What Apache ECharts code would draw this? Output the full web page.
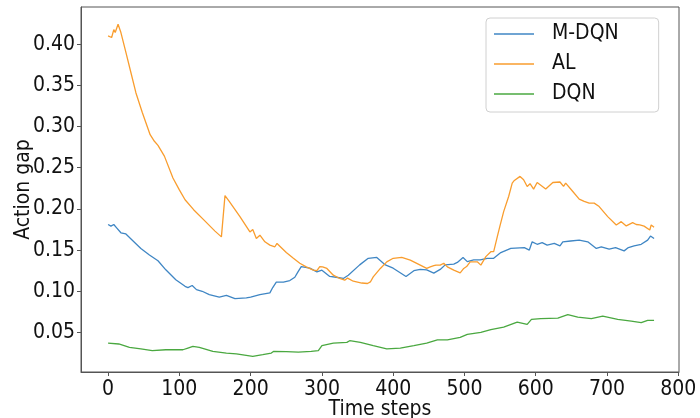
<!DOCTYPE html>
<html>
<head>
<meta charset="utf-8">
<script src="https://cdn.jsdelivr.net/npm/echarts@6/dist/echarts.min.js"></script>
<style>html,body{margin:0;padding:0;background:#fff}#c{width:700px;height:418px}</style>
</head>
<body>
<div id="c"></div>
<script>
// Tick labels
const xTicks = [0, 100, 200, 300, 400, 500, 600, 700, 800];
const yTicks = [0.05, 0.10, 0.15, 0.20, 0.25, 0.30, 0.35, 0.40];
const seriesNames = ['M-DQN', 'AL', 'DQN'];

// M-DQN
const mdqnX = [0, 4, 8, 12, 18, 25, 34, 46, 58, 70, 81, 95, 108, 112, 118, 124, 132, 142, 156, 166, 178, 194, 200, 213, 227, 231, 236, 246, 255, 262, 266, 271, 283, 293, 300, 311, 320, 330, 337, 353, 365, 377, 389, 400, 418, 429, 438, 447, 457, 466, 473, 485, 490, 498, 504, 513, 522, 532, 541, 551, 565, 584, 591, 595, 602, 609, 616, 626, 634, 638, 649, 661, 673, 685, 692, 703, 712, 724, 730, 738, 748, 757, 761, 766];
const mdqnY = [0.181, 0.179, 0.181, 0.177, 0.171, 0.1695, 0.162, 0.152, 0.144, 0.137, 0.126, 0.114, 0.106, 0.1045, 0.107, 0.102, 0.100, 0.096, 0.093, 0.095, 0.091, 0.092, 0.093, 0.096, 0.098, 0.1045, 0.111, 0.111, 0.113, 0.117, 0.123, 0.130, 0.128, 0.1235, 0.1256, 0.118, 0.117, 0.1155, 0.1195, 0.132, 0.140, 0.141, 0.132, 0.128, 0.118, 0.125, 0.1265, 0.126, 0.122, 0.1265, 0.132, 0.133, 0.135, 0.141, 0.136, 0.138, 0.138, 0.140, 0.140, 0.147, 0.152, 0.153, 0.150, 0.160, 0.157, 0.159, 0.156, 0.158, 0.155, 0.160, 0.161, 0.162, 0.160, 0.152, 0.154, 0.151, 0.153, 0.149, 0.153, 0.155, 0.157, 0.162, 0.167, 0.164];

// AL
const alX = [0, 5, 8, 10, 14, 18, 25, 32, 39, 48, 59, 65, 70, 79, 91, 100, 108, 120, 135, 150, 159, 164, 170, 185, 199, 203, 208, 213, 220, 227, 234, 237, 250, 260, 269, 278, 288, 293, 297, 301, 307, 316, 325, 332, 336, 344, 356, 364, 368, 372, 382, 391, 400, 412, 424, 438, 447, 452, 457, 460, 466, 471, 476, 485, 494, 499, 503, 508, 518, 523, 530, 537, 541, 546, 550, 555, 562, 567, 570, 578, 583, 588, 592, 597, 602, 608, 614, 619, 624, 634, 639, 642, 652, 661, 668, 675, 682, 689, 701, 713, 720, 727, 736, 741, 746, 752, 760, 762, 766];
const alY = [0.410, 0.408, 0.4175, 0.414, 0.424, 0.414, 0.390, 0.3655, 0.341, 0.317, 0.290, 0.282, 0.277, 0.264, 0.2375, 0.223, 0.211, 0.199, 0.186, 0.173, 0.166, 0.216, 0.209, 0.1906, 0.172, 0.175, 0.164, 0.168, 0.160, 0.156, 0.154, 0.158, 0.147, 0.140, 0.134, 0.1296, 0.1256, 0.125, 0.130, 0.1296, 0.1277, 0.1195, 0.1155, 0.1134, 0.116, 0.1122, 0.110, 0.1094, 0.1113, 0.1175, 0.1277, 0.1357, 0.140, 0.141, 0.1378, 0.1317, 0.1277, 0.1296, 0.131, 0.1317, 0.1317, 0.134, 0.1296, 0.1256, 0.1223, 0.1277, 0.130, 0.1357, 0.1357, 0.1317, 0.142, 0.148, 0.148, 0.166, 0.180, 0.1967, 0.215, 0.2313, 0.2345, 0.2394, 0.2354, 0.2272, 0.2305, 0.224, 0.232, 0.228, 0.224, 0.228, 0.232, 0.2326, 0.2272, 0.2313, 0.2211, 0.2118, 0.209, 0.207, 0.207, 0.2028, 0.1906, 0.1805, 0.1845, 0.1793, 0.1833, 0.181, 0.1805, 0.179, 0.1744, 0.1805, 0.1777];

// DQN
const dqnX = [0, 15, 30, 46, 62, 81, 105, 112, 119, 128, 147, 166, 180, 203, 217, 229, 232, 250, 267, 285, 295, 300, 316, 335, 339, 354, 372, 391, 410, 429, 447, 462, 476, 494, 504, 523, 537, 555, 574, 588, 594, 607, 631, 645, 659, 678, 694, 715, 734, 748, 757, 766];
const dqnY = [0.037, 0.036, 0.032, 0.030, 0.028, 0.029, 0.029, 0.031, 0.033, 0.032, 0.027, 0.025, 0.024, 0.021, 0.023, 0.025, 0.027, 0.0268, 0.026, 0.027, 0.028, 0.034, 0.037, 0.038, 0.040, 0.038, 0.034, 0.030, 0.031, 0.034, 0.037, 0.041, 0.041, 0.044, 0.0476, 0.050, 0.0535, 0.0565, 0.0626, 0.0598, 0.0659, 0.0667, 0.0675, 0.0716, 0.0687, 0.0667, 0.0699, 0.0659, 0.0638, 0.0618, 0.0647, 0.0647];

const zip = (xs, ys) => xs.map((x, i) => [x, ys[i]]);
const colors = ['#3f86c4', '#f99d2e', '#4aa840'];
const font = "'DejaVu Sans Condensed', 'DejaVu Sans'";
const fs = 21;

const chart = echarts.init(document.getElementById('c'), null, {renderer: 'canvas'});
chart.setOption({
  animation: false,
  backgroundColor: '#fff',
  grid: {left: 81, right: 21, top: 7, bottom: 46, show: true, borderColor: '#555', borderWidth: 1,
    containLabel: false, outerBoundsMode: 'none'},
  legend: {
    data: seriesNames,
    orient: 'vertical',
    left: 486, top: 18,
    icon: 'rect', itemWidth: 40, itemHeight: 1.6,
    itemGap: 8,
    padding: [5, 40, 7, 8],
    backgroundColor: '#fff',
    borderColor: '#d0d0d0', borderWidth: 1, borderRadius: 4,
    textStyle: {fontFamily: font, fontSize: fs, color: '#111', lineHeight: 22, padding: [0, 0, 0, 13]}
  },
  xAxis: {
    type: 'value', min: -38, max: 801,
    name: 'Time steps', nameLocation: 'middle', nameGap: 27, nameMoveOverlap: false,
    nameTextStyle: {fontFamily: font, fontSize: fs, color: '#111'},
    axisLine: {show: true, onZero: false, lineStyle: {color: '#555', width: 1}},
    axisTick: {show: true, inside: false, length: 4, lineStyle: {color: '#555'}, customValues: xTicks},
    axisLabel: {fontFamily: font, fontSize: fs, color: '#111', margin: 7, customValues: xTicks},
    splitLine: {show: false}
  },
  yAxis: {
    type: 'value', min: 0.002, max: 0.445,
    name: 'Action gap', nameLocation: 'middle', nameGap: 47, nameRotate: 90, nameMoveOverlap: false,
    nameTextStyle: {fontFamily: font, fontSize: fs, color: '#111'},
    axisLine: {show: true, onZero: false, lineStyle: {color: '#555', width: 1}},
    axisTick: {show: true, inside: false, length: 4, lineStyle: {color: '#555'}, customValues: yTicks},
    axisLabel: {fontFamily: font, fontSize: fs, color: '#111', margin: 6, customValues: yTicks,
      formatter: v => v.toFixed(2)},
    splitLine: {show: false}
  },
  series: [
    {name: seriesNames[0], type: 'line', data: zip(mdqnX, mdqnY), showSymbol: false, symbol: 'none', lineStyle: {width: 1.3, color: colors[0]}, itemStyle: {color: colors[0]}},
    {name: seriesNames[1], type: 'line', data: zip(alX, alY), showSymbol: false, symbol: 'none', lineStyle: {width: 1.3, color: colors[1]}, itemStyle: {color: colors[1]}},
    {name: seriesNames[2], type: 'line', data: zip(dqnX, dqnY), showSymbol: false, symbol: 'none', lineStyle: {width: 1.3, color: colors[2]}, itemStyle: {color: colors[2]}}
  ]
});
</script>
</body>
</html>
